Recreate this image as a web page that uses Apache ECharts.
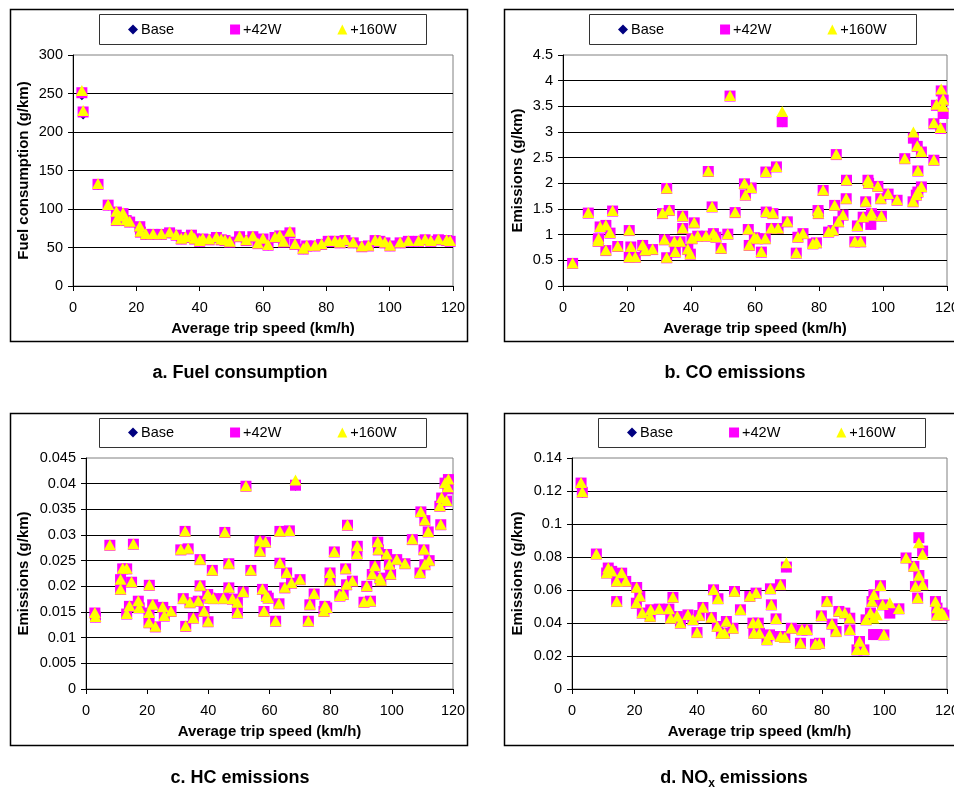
<!DOCTYPE html>
<html><head><meta charset="utf-8">
<script src="https://cdn.jsdelivr.net/npm/echarts@6/dist/echarts.min.js"></script>
<style>html,body{margin:0;padding:0;background:#fff;overflow:hidden}#c{width:954px;height:789px}</style>
</head><body><div id="c"></div>
<script>
// Series names (legend order)
const seriesNames = ['Base', '+42W', '+160W'];
// x axis ticks
const speedTicks = [0, 20, 40, 60, 80, 100, 120];

// Rows: [average trip speed (km/h), Base, +42W, +160W]
const fuelRows = [
  [2.8,247,251,254],[3.2,222,226,228],[7.9,131,132,133],[11.1,104,105,106],[13.7,95,96,97],
  [13.7,84,85,86],[14.7,89,90,91],[15.8,93,94,95],[16.8,84,85,86],[17.9,82,83,84],
  [21.1,76,77,78],[21.3,69,70,71],[23.0,66,67,68],[25.3,66,67,68],[27.9,66,67,68],
  [30.5,68,69,70],[32.6,65,66,67],[34.2,60,61,62],[35.5,62,63,64],[37.4,65,66,67],
  [38.4,60,61,62],[40.0,57,58,59],[41.0,60,61,62],[43.0,59,60,61],[45.3,62,63,64],
  [46.8,59,60,61],[48.0,58,59,60],[49.5,56,57,58],[52.6,63,64,65],[54.7,58,59,60],
  [56.8,63,64,65],[58.4,54,55,56],[60.0,60,61,62],[61.6,52,53,54],[63.8,62,63,64],
  [65.3,64,65,66],[66.5,56,57,58],[68.5,68,69,71],[70.1,53,54,55],[72.7,47,48,49],
  [73.8,51,52,53],[76.4,51,52,53],[78.5,53,54,55],[80.6,57,58,59],[82.7,57,58,59],
  [84.3,55,56,57],[85.9,58,59,60],[88.5,55,56,57],[91.2,50,51,52],[93.3,51,52,53],
  [95.4,58,59,60],[96.9,57,58,59],[98.5,55,56,57],[100.1,51,52,53],[103.3,55,56,57],
  [105.9,57,58,59],[109.1,57,58,59],[111.2,59,60,61],[113.0,57,58,59],[115.4,59,60,61],
  [118.0,58,59,60],[119.1,57,58,59]
];

const coRows = [
  [3.0,0.44,0.44,0.45],[7.9,1.41,1.42,1.43],[11.0,0.86,0.87,0.88],[11.1,0.91,0.92,0.93],
  [11.6,1.14,1.15,1.16],[13.4,1.17,1.18,1.19],[13.4,0.68,0.69,0.70],[14.7,1.02,1.03,1.04],
  [15.5,1.45,1.46,1.47],[17.1,0.76,0.77,0.78],[20.7,1.07,1.08,1.09],[20.7,0.55,0.56,0.57],
  [21.2,0.75,0.76,0.77],[22.6,0.55,0.56,0.57],[24.9,0.78,0.79,0.80],[25.7,0.68,0.69,0.70],
  [28.0,0.70,0.71,0.72],[31.1,1.40,1.41,1.42],[31.7,0.89,0.90,0.91],[32.4,1.89,1.90,1.91],
  [32.4,0.54,0.55,0.56],[33.2,1.46,1.47,1.48],[34.8,0.85,0.86,0.87],[35.1,0.65,0.66,0.67],
  [36.6,0.85,0.86,0.87],[37.4,1.35,1.36,1.37],[37.4,1.11,1.12,1.13],[39.0,0.70,0.71,0.72],
  [39.8,0.61,0.62,0.63],[40.3,0.91,0.92,0.93],[41.0,1.22,1.23,1.24],[42.1,0.96,0.97,0.98],
  [44.7,0.96,0.97,0.98],[45.4,2.22,2.23,2.24],[46.6,1.53,1.54,1.55],[47.0,1.01,1.02,1.03],
  [47.8,0.94,0.95,0.96],[49.4,0.72,0.73,0.74],[51.5,1.00,1.01,1.02],[52.2,3.69,3.70,3.71],
  [53.8,1.42,1.43,1.44],[56.7,1.98,1.99,2.00],[57.0,1.76,1.77,1.78],[57.9,1.09,1.10,1.11],
  [58.2,0.78,0.79,0.80],[58.8,1.90,1.91,1.92],[59.8,0.93,0.94,0.95],[60.7,0.91,0.92,0.93],
  [62.0,0.65,0.66,0.67],[63.2,0.91,0.92,0.93],[63.4,2.21,2.22,2.23],[63.5,1.43,1.44,1.45],
  [65.1,1.11,1.12,1.13],[65.6,1.40,1.41,1.42],[66.7,2.31,2.32,2.33],[67.2,1.11,1.12,1.13],
  [68.5,3.18,3.20,3.40],[70.1,1.24,1.25,1.26],[72.9,0.63,0.64,0.65],[73.4,0.94,0.95,0.96],
  [75.0,1.01,1.02,1.03],[78.1,0.81,0.82,0.83],[79.2,0.83,0.84,0.85],[79.7,1.46,1.47,1.48],
  [79.8,1.40,1.41,1.42],[81.3,1.85,1.86,1.87],[83.0,1.04,1.05,1.06],[84.4,1.07,1.08,1.09],
  [84.9,1.56,1.57,1.58],[85.4,2.55,2.56,2.57],[86.1,1.24,1.25,1.26],[87.5,1.37,1.38,1.39],
  [88.5,1.69,1.70,1.71],[88.6,2.05,2.06,2.07],[91.2,0.85,0.86,0.87],[92.0,1.16,1.17,1.18],
  [93.0,0.85,0.86,0.87],[93.8,1.33,1.34,1.35],[94.6,1.63,1.64,1.65],[95.3,2.05,2.06,2.07],
  [95.5,1.99,2.00,2.01],[96.2,1.18,1.20,1.38],[96.4,1.40,1.41,1.42],[98.4,1.93,1.94,1.95],
  [99.3,1.69,1.70,1.71],[99.5,1.35,1.36,1.37],[101.6,1.78,1.79,1.80],[104.4,1.66,1.67,1.68],
  [106.8,2.47,2.48,2.49],[109.4,1.63,1.64,1.65],[109.5,2.86,2.88,3.00],[110.4,1.76,1.77,1.78],
  [110.7,2.71,2.72,2.73],[110.9,2.23,2.24,2.25],[110.9,1.82,1.83,1.84],[112.0,2.60,2.61,2.62],
  [112.0,1.92,1.93,1.94],[115.9,2.44,2.45,2.46],[115.9,3.15,3.16,3.18],[116.7,3.51,3.52,3.54],
  [118.0,3.06,3.07,3.09],[118.2,3.78,3.80,3.84],[118.8,3.60,3.62,3.64],[118.8,3.34,3.36,3.50]
];

const hcRows = [
  [2.9,0.0147,0.0148,0.0149],[3.1,0.0139,0.0140,0.0141],[7.8,0.0279,0.0280,0.0281],
  [11.3,0.0212,0.0213,0.0214],[11.3,0.0193,0.0194,0.0195],[12.0,0.0233,0.0234,0.0235],
  [13.3,0.0233,0.0234,0.0235],[13.3,0.0145,0.0146,0.0147],[14.2,0.0160,0.0161,0.0162],
  [14.9,0.0207,0.0208,0.0209],[15.5,0.0281,0.0282,0.0283],[17.1,0.0170,0.0171,0.0172],
  [17.4,0.0157,0.0158,0.0159],[20.6,0.0147,0.0148,0.0149],[20.6,0.0128,0.0129,0.0130],
  [20.7,0.0201,0.0202,0.0203],[21.8,0.0163,0.0164,0.0165],[22.7,0.0120,0.0121,0.0122],
  [25.1,0.0158,0.0159,0.0160],[25.6,0.0141,0.0142,0.0143],[27.8,0.0150,0.0151,0.0152],
  [31.0,0.0270,0.0271,0.0272],[31.8,0.0175,0.0176,0.0177],[32.4,0.0306,0.0307,0.0308],
  [32.6,0.0121,0.0122,0.0123],[33.4,0.0272,0.0273,0.0274],[34.0,0.0167,0.0168,0.0169],
  [35.1,0.0137,0.0138,0.0139],[36.7,0.0170,0.0171,0.0172],[37.3,0.0251,0.0252,0.0253],
  [37.3,0.0200,0.0201,0.0202],[38.6,0.0150,0.0151,0.0152],[39.8,0.0183,0.0184,0.0185],
  [39.9,0.0130,0.0131,0.0132],[40.5,0.0176,0.0177,0.0178],[41.3,0.0230,0.0231,0.0232],
  [41.6,0.0175,0.0176,0.0177],[44.9,0.0175,0.0176,0.0177],[45.4,0.0304,0.0305,0.0306],
  [46.7,0.0243,0.0244,0.0245],[46.7,0.0196,0.0197,0.0198],[47.9,0.0174,0.0175,0.0176],
  [49.5,0.0167,0.0168,0.0169],[49.5,0.0147,0.0148,0.0149],[51.4,0.0188,0.0189,0.0190],
  [52.3,0.0394,0.0395,0.0396],[53.9,0.0230,0.0231,0.0232],[56.9,0.0287,0.0288,0.0289],
  [56.9,0.0267,0.0268,0.0269],[57.7,0.0193,0.0194,0.0195],[58.2,0.0150,0.0151,0.0152],
  [58.7,0.0285,0.0286,0.0287],[59.0,0.0180,0.0181,0.0182],[59.6,0.0176,0.0177,0.0178],
  [62.0,0.0131,0.0132,0.0133],[63.1,0.0165,0.0166,0.0167],[63.4,0.0306,0.0307,0.0308],
  [63.4,0.0244,0.0245,0.0246],[65.0,0.0196,0.0197,0.0198],[65.6,0.0225,0.0226,0.0227],
  [66.5,0.0307,0.0308,0.0309],[67.2,0.0205,0.0206,0.0207],[68.5,0.0395,0.0397,0.0407],
  [70.0,0.0212,0.0213,0.0214],[72.7,0.0131,0.0132,0.0133],[73.2,0.0163,0.0164,0.0165],
  [74.6,0.0184,0.0185,0.0186],[77.8,0.0150,0.0151,0.0152],[78.1,0.0160,0.0161,0.0162],
  [78.7,0.0157,0.0158,0.0159],[79.8,0.0225,0.0226,0.0227],[79.8,0.0210,0.0211,0.0212],
  [81.2,0.0266,0.0267,0.0268],[83.0,0.0180,0.0181,0.0182],[84.1,0.0183,0.0184,0.0185],
  [84.9,0.0233,0.0234,0.0235],[85.2,0.0202,0.0203,0.0204],[85.5,0.0318,0.0319,0.0320],
  [87.1,0.0209,0.0210,0.0211],[88.6,0.0262,0.0263,0.0264],[88.7,0.0277,0.0278,0.0279],
  [90.9,0.0168,0.0169,0.0170],[91.8,0.0199,0.0200,0.0201],[93.0,0.0170,0.0171,0.0172],
  [93.6,0.0222,0.0223,0.0224],[94.5,0.0238,0.0239,0.0240],[95.4,0.0285,0.0286,0.0287],
  [95.6,0.0270,0.0271,0.0272],[96.1,0.0215,0.0216,0.0217],[96.4,0.0210,0.0211,0.0212],
  [98.3,0.0261,0.0262,0.0263],[99.2,0.0241,0.0242,0.0243],[99.6,0.0222,0.0223,0.0224],
  [101.6,0.0251,0.0252,0.0253],[104.3,0.0243,0.0244,0.0245],[106.7,0.0290,0.0291,0.0292],
  [109.2,0.0225,0.0226,0.0227],[109.5,0.0344,0.0345,0.0346],[110.5,0.0270,0.0271,0.0272],
  [110.8,0.0327,0.0328,0.0329],[110.8,0.0241,0.0242,0.0243],[111.9,0.0305,0.0306,0.0307],
  [112.2,0.0249,0.0250,0.0251],[115.7,0.0355,0.0356,0.0357],[116.0,0.0319,0.0320,0.0321],
  [116.3,0.0371,0.0372,0.0373],[117.4,0.0400,0.0401,0.0402],[117.9,0.0365,0.0366,0.0367],
  [118.3,0.0388,0.0390,0.0394],[118.5,0.0407,0.0408,0.0409]
];

const noxRows = [
  [2.9,0.1245,0.1248,0.1251],[3.3,0.1185,0.1192,0.1196],[7.8,0.0816,0.0818,0.0820],
  [11.1,0.0701,0.0703,0.0705],[11.6,0.0731,0.0733,0.0735],[12.7,0.0711,0.0713,0.0715],
  [14.3,0.0650,0.0652,0.0654],[14.3,0.0528,0.0530,0.0532],[15.9,0.0700,0.0702,0.0704],
  [17.2,0.0650,0.0652,0.0654],[20.6,0.0518,0.0520,0.0522],[20.7,0.0613,0.0615,0.0617],
  [21.7,0.0559,0.0561,0.0563],[22.5,0.0458,0.0460,0.0462],[25.0,0.0437,0.0439,0.0441],
  [25.2,0.0478,0.0480,0.0482],[27.9,0.0482,0.0484,0.0486],[31.0,0.0482,0.0484,0.0486],
  [31.6,0.0427,0.0429,0.0431],[32.3,0.0553,0.0555,0.0557],[33.7,0.0437,0.0439,0.0441],
  [34.7,0.0397,0.0399,0.0401],[37.1,0.0447,0.0449,0.0451],[38.7,0.0417,0.0419,0.0421],
  [40.0,0.0340,0.0342,0.0344],[40.7,0.0443,0.0445,0.0447],[41.9,0.0492,0.0494,0.0496],
  [44.6,0.0431,0.0433,0.0435],[45.3,0.0599,0.0601,0.0603],[46.5,0.0377,0.0379,0.0381],
  [46.7,0.0545,0.0547,0.0549],[47.8,0.0336,0.0338,0.0340],[48.8,0.0336,0.0338,0.0340],
  [49.4,0.0407,0.0409,0.0411],[51.5,0.0366,0.0368,0.0370],[52.0,0.0589,0.0591,0.0593],
  [53.9,0.0478,0.0480,0.0482],[56.9,0.0559,0.0561,0.0563],[57.9,0.0397,0.0399,0.0401],
  [58.2,0.0336,0.0338,0.0340],[58.9,0.0579,0.0581,0.0583],[59.6,0.0397,0.0399,0.0401],
  [60.0,0.0336,0.0338,0.0340],[62.4,0.0296,0.0298,0.0300],[63.2,0.0326,0.0328,0.0330],
  [63.5,0.0605,0.0607,0.0609],[63.8,0.0508,0.0510,0.0512],[65.3,0.0423,0.0425,0.0427],
  [66.7,0.0630,0.0632,0.0634],[66.7,0.0316,0.0318,0.0320],[68.1,0.0310,0.0312,0.0314],
  [68.6,0.0735,0.0739,0.0765],[70.2,0.0366,0.0368,0.0370],[73.1,0.0275,0.0277,0.0279],
  [73.6,0.0356,0.0358,0.0360],[75.2,0.0356,0.0358,0.0360],[77.9,0.0269,0.0271,0.0273],
  [79.2,0.0275,0.0277,0.0279],[79.8,0.0441,0.0443,0.0445],[81.6,0.0528,0.0530,0.0532],
  [83.2,0.0391,0.0393,0.0395],[84.5,0.0346,0.0348,0.0350],[85.4,0.0468,0.0470,0.0472],
  [87.3,0.0458,0.0460,0.0462],[88.9,0.0427,0.0429,0.0431],[88.9,0.0356,0.0358,0.0360],
  [91.2,0.0235,0.0237,0.0239],[92.0,0.0286,0.0288,0.0290],[93.4,0.0235,0.0237,0.0239],
  [94.1,0.0417,0.0419,0.0421],[95.5,0.0458,0.0460,0.0462],[96.0,0.0528,0.0530,0.0532],
  [96.5,0.0328,0.0330,0.0430],[97.5,0.0328,0.0330,0.0450],[96.6,0.0569,0.0571,0.0573],
  [98.7,0.0624,0.0626,0.0628],[99.4,0.0508,0.0510,0.0512],[99.8,0.0326,0.0328,0.0330],
  [101.7,0.0458,0.0460,0.0522],[104.6,0.0484,0.0486,0.0488],[106.9,0.0792,0.0794,0.0796],
  [109.4,0.0741,0.0743,0.0745],[109.9,0.0619,0.0621,0.0623],[110.6,0.0549,0.0551,0.0553],
  [111.0,0.0686,0.0688,0.0690],[111.0,0.0915,0.0917,0.0887],[112.2,0.0834,0.0836,0.0816],
  [112.2,0.0630,0.0632,0.0634],[116.3,0.0528,0.0530,0.0532],[116.8,0.0488,0.0490,0.0492],
  [116.8,0.0446,0.0448,0.0450],[118.4,0.0458,0.0460,0.0462],[119.0,0.0446,0.0448,0.0450]
];

// Layout / style configuration (kept separate from data)
const FONT = '"Liberation Sans", Arial, sans-serif';
const panels = [
  { rows: fuelRows, yName: 'Fuel consumption (g/km)', yMax: 300, yInt: 50,
    grid: {left: 73, top: 55, width: 380, height: 231}, nameGap: 42,
    legend: {left: 128, top: 22}, box: [99, 14, 327, 30], frame: [10, 9, 457, 332],
    title: '{t|a. Fuel consumption}', tx: 240, ty: 361 },
  { rows: coRows, yName: 'Emissions (g/km)', yMax: 4.5, yInt: 0.5,
    grid: {left: 563, top: 55, width: 384, height: 231}, nameGap: 38,
    legend: {left: 618, top: 22}, box: [589, 14, 327, 30], frame: [504, 9, 470, 332],
    title: '{t|b. CO emissions}', tx: 735, ty: 361 },
  { rows: hcRows, yName: 'Emissions (g/km)', yMax: 0.045, yInt: 0.005,
    grid: {left: 86, top: 458, width: 367, height: 231}, nameGap: 55,
    legend: {left: 128, top: 425}, box: [99, 418, 327, 29], frame: [10, 413, 457, 332],
    title: '{t|c. HC emissions}', tx: 240, ty: 766 },
  { rows: noxRows, yName: 'Emissions (g/km)', yMax: 0.14, yInt: 0.02,
    grid: {left: 572, top: 458, width: 375, height: 231}, nameGap: 47,
    legend: {left: 627, top: 425}, box: [598, 418, 327, 29], frame: [504, 413, 470, 332],
    title: '{t|d. NO}{s|x}{t| emissions}', tx: 734, ty: 766 }
];

const styles = [
  { symbol: 'diamond', size: 9, color: '#000080' },
  { symbol: 'rect', size: 11, color: '#FF00FF' },
  { symbol: 'triangle', size: [12, 11], color: '#FFFF00' }
];

const grids = [], xAxes = [], yAxes = [], series = [], legends = [], titles = [], graphics = [];
panels.forEach((p, i) => {
  grids.push(Object.assign({ show: true, borderColor: '#808080', borderWidth: 1, backgroundColor: '#fff',
    containLabel: false, outerBoundsMode: 'none' }, p.grid));
  xAxes.push({
    type: 'value', gridIndex: i, min: speedTicks[0], max: speedTicks[speedTicks.length - 1],
    interval: speedTicks[1] - speedTicks[0],
    name: 'Average trip speed (km/h)', nameLocation: 'middle', nameGap: 35,
    nameTextStyle: { fontFamily: FONT, fontSize: 15, fontWeight: 'bold', color: '#000' },
    axisLine: { show: true, onZero: false, lineStyle: { color: '#000', width: 1 } },
    axisTick: { show: true, length: 5, lineStyle: { color: '#000' } },
    axisLabel: { fontFamily: FONT, fontSize: 14.5, color: '#000', margin: 14 },
    splitLine: { show: false }
  });
  yAxes.push({
    type: 'value', gridIndex: i, min: 0, max: p.yMax, interval: p.yInt,
    name: p.yName, nameLocation: 'middle', nameGap: p.nameGap, nameRotate: 90,
    nameTextStyle: { fontFamily: FONT, fontSize: 15, fontWeight: 'bold', color: '#000' },
    axisLine: { show: true, lineStyle: { color: '#000', width: 1 } },
    axisTick: { show: true, length: 5, lineStyle: { color: '#000' } },
    axisLabel: { fontFamily: FONT, fontSize: 14.5, color: '#000', margin: 10 },
    splitLine: { show: true, showMinLine: false, showMaxLine: false, lineStyle: { color: '#000', width: 1 } }
  });
  seriesNames.forEach((name, k) => {
    series.push({
      type: 'scatter', name: name, xAxisIndex: i, yAxisIndex: i,
      symbol: styles[k].symbol, symbolSize: styles[k].size,
      itemStyle: { color: styles[k].color, opacity: 1 },
      z: 2 + k, clip: false,
      data: p.rows.map(r => [r[0], r[k + 1]])
    });
  });
  legends.push({
    left: p.legend.left, top: p.legend.top, orient: 'horizontal',
    itemWidth: 10, itemHeight: 10, itemGap: 56, padding: 0, selectedMode: false,
    textStyle: { fontFamily: FONT, fontSize: 14.5, color: '#000', padding: [0, 0, 0, -2] },
    data: [
      { name: seriesNames[0], icon: 'diamond', itemStyle: { color: styles[0].color } },
      { name: seriesNames[1], icon: 'rect', itemStyle: { color: styles[1].color } },
      { name: seriesNames[2], icon: 'triangle', itemStyle: { color: styles[2].color } }
    ]
  });
  titles.push({
    text: p.title, left: p.tx, top: p.ty, textAlign: 'center', padding: 0,
    textStyle: {
      rich: {
        t: { fontFamily: FONT, fontSize: 18, fontWeight: 'bold', color: '#000', lineHeight: 24, verticalAlign: 'middle' },
        s: { fontFamily: FONT, fontSize: 12, fontWeight: 'bold', color: '#000', lineHeight: 12, verticalAlign: 'bottom' }
      }
    }
  });
  graphics.push({
    type: 'rect', z: -10, silent: true,
    shape: { x: p.frame[0] + 0.5, y: p.frame[1] + 0.5, width: p.frame[2], height: p.frame[3] },
    style: { fill: 'none', stroke: '#000', lineWidth: 1.5 }
  });
  graphics.push({
    type: 'rect', z: -5, silent: true,
    shape: { x: p.box[0] + 0.5, y: p.box[1] + 0.5, width: p.box[2], height: p.box[3] },
    style: { fill: '#fff', stroke: '#333', lineWidth: 1 }
  });
});

const chart = echarts.init(document.getElementById('c'), null, { renderer: 'canvas' });
chart.setOption({
  animation: false,
  backgroundColor: '#fff',
  title: titles,
  legend: legends,
  grid: grids,
  xAxis: xAxes,
  yAxis: yAxes,
  series: series,
  graphic: graphics
});
</script>
</body></html>
